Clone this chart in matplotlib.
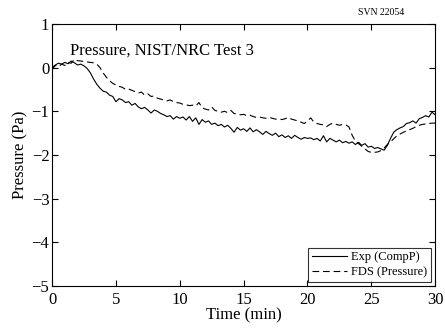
import numpy as np
import matplotlib
matplotlib.use('Agg')
import matplotlib.pyplot as plt

plt.rcParams['font.family'] = ['Liberation Serif', 'DejaVu Serif']

# time grid (min)
time = np.linspace(0, 30, 121)

exp_compp = [
    0.0, 0.06, 0.10, 0.08, 0.12,
    0.09, 0.15, 0.11, 0.06,
    0.08, 0.04, -0.02, -0.12,
    -0.26, -0.38, -0.47, -0.54,
    -0.56, -0.63, -0.66, -0.78,
    -0.71, -0.74, -0.80, -0.78,
    -0.86, -0.82, -0.90, -0.94,
    -0.91, -0.97, -1.04, -0.97,
    -1.00, -1.05, -1.08, -1.12,
    -1.10, -1.18, -1.12, -1.16,
    -1.13, -1.20, -1.12, -1.23,
    -1.15, -1.30, -1.19, -1.25,
    -1.22, -1.30, -1.27, -1.33,
    -1.30, -1.36, -1.32, -1.39,
    -1.48, -1.37, -1.43, -1.40,
    -1.46, -1.38, -1.47, -1.42,
    -1.47, -1.53, -1.46, -1.51,
    -1.55, -1.50, -1.58, -1.54,
    -1.60, -1.56, -1.62, -1.55,
    -1.60, -1.64, -1.60, -1.62,
    -1.61, -1.65, -1.62, -1.68,
    -1.56, -1.70, -1.62, -1.66,
    -1.70, -1.66, -1.72, -1.69,
    -1.73, -1.70, -1.76, -1.71,
    -1.78, -1.74, -1.82, -1.80,
    -1.85, -1.83, -1.86, -1.89,
    -1.78, -1.62, -1.48, -1.42,
    -1.38, -1.35, -1.28, -1.26,
    -1.22, -1.27, -1.17, -1.14,
    -1.10, -1.13, -1.02, -1.08,
]

fds_pressure = [
    -0.05, 0.05, 0.02, 0.08, 0.05,
    0.12, 0.10, 0.19, 0.16,
    0.15, 0.14, 0.13, 0.12,
    0.11, 0.08, 0.0, -0.12,
    -0.22, -0.30, -0.36, -0.40,
    -0.43, -0.45, -0.50, -0.49,
    -0.52, -0.55, -0.58, -0.56,
    -0.63, -0.60, -0.66, -0.65,
    -0.70, -0.72, -0.74, -0.76,
    -0.74, -0.78, -0.80, -0.81,
    -0.84, -0.85, -0.87, -0.86,
    -0.88, -0.80, -0.92, -0.95,
    -0.97, -0.90, -0.98, -1.00,
    -1.02, -1.00, -1.03, -0.98,
    -1.05, -1.06, -1.08, -1.07,
    -1.10, -1.09, -1.12, -1.14,
    -1.13, -1.15, -1.16, -1.14,
    -1.16, -1.18, -1.17, -1.19,
    -1.17, -1.14, -1.18, -1.20,
    -1.22, -1.25, -1.28, -1.22,
    -1.15, -1.25, -1.28, -1.30,
    -1.31, -1.35, -1.30, -1.27,
    -1.30, -1.32, -1.30, -1.31,
    -1.36, -1.55, -1.68, -1.74,
    -1.80, -1.86, -1.92, -1.94,
    -1.94, -1.93, -1.90, -1.84,
    -1.76, -1.70, -1.63, -1.56,
    -1.52, -1.48, -1.45, -1.42,
    -1.39, -1.35, -1.32, -1.30,
    -1.29, -1.28, -1.27, -1.27,
]

fig = plt.figure(figsize=(4.45, 3.28), dpi=100)
ax = fig.add_axes([0.117, 0.128, 0.861, 0.799])

ax.plot(time, exp_compp, color='black', lw=0.8, ls='-', label='Exp (CompP)')
ax.plot(time, fds_pressure, color='black', lw=0.8, ls=(0, (6, 3.5)), label='FDS (Pressure)')

ax.set_xlim(0, 30)
ax.set_ylim(-5, 1)
ax.set_xticks([0, 5, 10, 15, 20, 25, 30])
ax.set_yticks([-5, -4, -3, -2, -1, 0, 1])
ax.set_yticklabels(['\u22125', '\u22124', '\u22123', '\u22122', '\u22121', '0', '1'])
ax.tick_params(direction='in', top=True, right=True, labelsize=12, length=4)
ax.tick_params(axis='x', pad=4)
ax.tick_params(axis='y', pad=2)
for s in ax.spines.values():
    s.set_linewidth(0.8)

ax.set_xlabel('Time (min)', fontsize=12, labelpad=0)
ax.set_ylabel('Pressure (Pa)', fontsize=12, labelpad=2)

ax.text(1.4, 0.29, 'Pressure, NIST/NRC Test 3', fontsize=12)
fig.text(0.805, 0.954, 'SVN 22054', fontsize=7)

leg = ax.legend(loc='lower right', fontsize=9, frameon=True, fancybox=False,
                edgecolor='black', handlelength=2.8, borderaxespad=0.35,
                borderpad=0.3, labelspacing=0.2, handletextpad=0.3)
leg.get_frame().set_linewidth(0.8)

fig.savefig('out.png', dpi=100)
